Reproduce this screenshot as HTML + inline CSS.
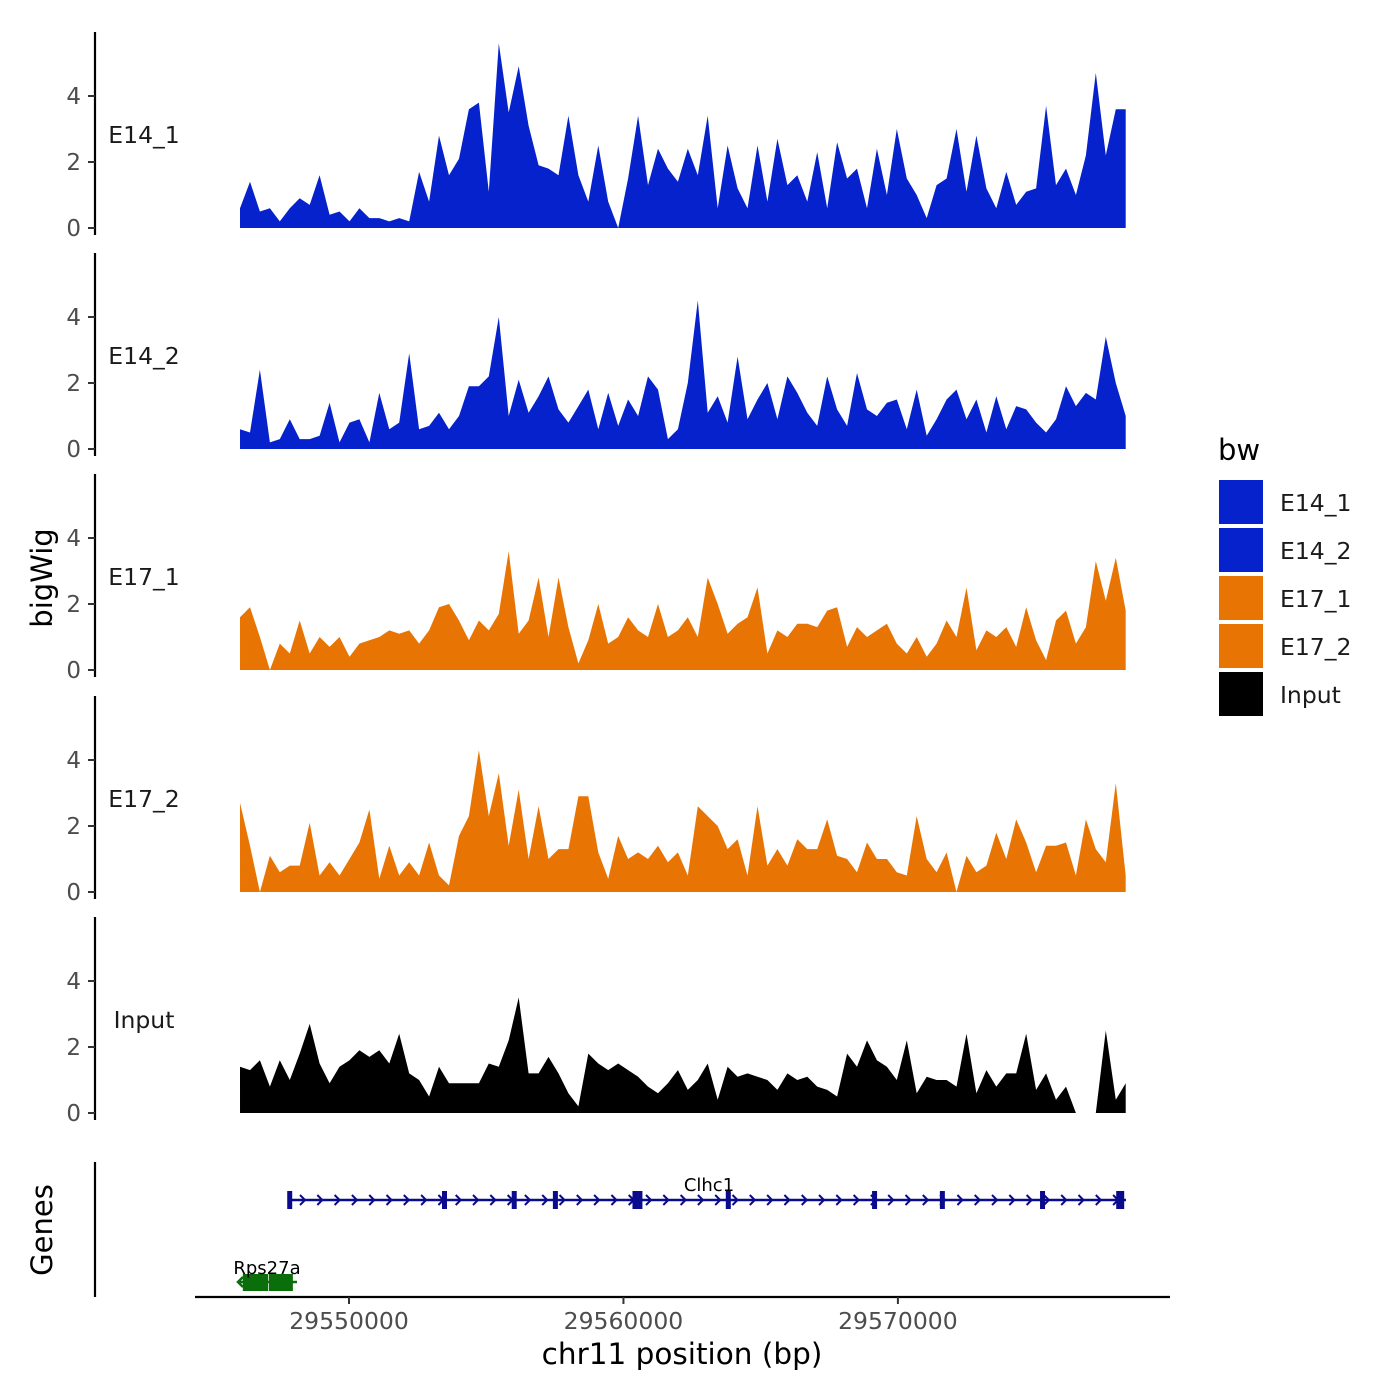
<!DOCTYPE html>
<html><head><meta charset="utf-8"><style>
html,body{margin:0;padding:0;background:#fff;}
svg{display:block;font-family:"DejaVu Sans","Liberation Sans",sans-serif;}
</style></head><body>
<svg id="chart" width="1400" height="1400" viewBox="0 0 1400 1400" xmlns="http://www.w3.org/2000/svg">
<rect width="1400" height="1400" fill="#fff"/>
<g id="tracks"></g>
<g id="genes"></g>
<g id="xaxis"></g>
<text x="0" y="0" transform="translate(52,578) rotate(-90)" text-anchor="middle" font-size="29" fill="#000">bigWig</text>
<text x="0" y="0" transform="translate(52,1230) rotate(-90)" text-anchor="middle" font-size="29" fill="#000">Genes</text>
<g id="legend"></g>
</svg>
<script>
const trackNames = ["E14_1","E14_2","E17_1","E17_2","Input"];
const trackColors = ["#0522CC","#0522CC","#E87503","#E87503","#000000"];
const yTicks = [0,2,4];
const xTicks = [29550000,29560000,29570000];
const binStart = 29546029;
const binStep = 362.6;
const e14_1 = [0.6,1.4,0.5,0.6,0.2,0.6,0.9,0.7,1.6,0.4,0.5,0.2,0.6,0.3,0.3,0.2,0.3,0.2,1.7,0.8,2.8,1.6,2.1,3.6,3.8,1.1,5.6,3.5,4.9,3.1,1.9,1.8,1.6,3.4,1.6,0.8,2.5,0.8,0.0,1.5,3.4,1.3,2.4,1.8,1.4,2.4,1.6,3.4,0.6,2.5,1.2,0.6,2.5,0.8,2.7,1.3,1.6,0.8,2.3,0.6,2.6,1.5,1.8,0.6,2.4,1.0,3.0,1.5,1.0,0.3,1.3,1.5,3.0,1.1,2.8,1.2,0.6,1.7,0.7,1.1,1.2,3.7,1.3,1.8,1.0,2.2,4.7,2.2,3.6,3.6];
const e14_2 = [0.6,0.5,2.4,0.2,0.3,0.9,0.3,0.3,0.4,1.4,0.2,0.8,0.9,0.2,1.7,0.6,0.8,2.9,0.6,0.7,1.1,0.6,1.0,1.9,1.9,2.2,4.0,1.0,2.1,1.1,1.6,2.2,1.2,0.8,1.3,1.8,0.6,1.7,0.7,1.5,1.0,2.2,1.8,0.3,0.6,2.0,4.5,1.1,1.6,0.8,2.8,0.9,1.5,2.0,0.9,2.2,1.7,1.1,0.7,2.2,1.2,0.7,2.3,1.2,1.0,1.4,1.5,0.6,1.8,0.4,0.9,1.5,1.8,0.9,1.5,0.5,1.6,0.6,1.3,1.2,0.8,0.5,0.9,1.9,1.3,1.7,1.5,3.4,2.0,1.0];
const e17_1 = [1.6,1.9,1.0,0.0,0.8,0.5,1.5,0.5,1.0,0.7,1.0,0.4,0.8,0.9,1.0,1.2,1.1,1.2,0.8,1.2,1.9,2.0,1.5,0.9,1.5,1.2,1.7,3.6,1.1,1.5,2.8,1.0,2.8,1.3,0.2,0.9,2.0,0.8,1.0,1.6,1.2,1.0,2.0,1.0,1.2,1.6,1.0,2.8,2.0,1.1,1.4,1.6,2.5,0.5,1.2,1.0,1.4,1.4,1.3,1.8,1.9,0.7,1.3,1.0,1.2,1.4,0.8,0.5,1.0,0.4,0.8,1.5,1.0,2.5,0.6,1.2,1.0,1.3,0.7,1.9,0.9,0.3,1.5,1.8,0.8,1.3,3.3,2.1,3.4,1.8];
const e17_2 = [2.7,1.4,0.0,1.1,0.6,0.8,0.8,2.1,0.5,0.9,0.5,1.0,1.5,2.5,0.4,1.4,0.5,0.9,0.5,1.5,0.5,0.2,1.7,2.3,4.3,2.3,3.6,1.4,3.1,1.0,2.6,1.0,1.3,1.3,2.9,2.9,1.2,0.4,1.7,1.0,1.2,1.0,1.4,0.9,1.2,0.5,2.6,2.3,2.0,1.3,1.6,0.5,2.6,0.8,1.3,0.8,1.6,1.3,1.3,2.2,1.1,1.0,0.6,1.5,1.0,1.0,0.6,0.5,2.3,1.0,0.6,1.2,0.0,1.1,0.6,0.8,1.8,1.0,2.2,1.5,0.6,1.4,1.4,1.5,0.5,2.2,1.3,0.9,3.3,0.5];
const input = [1.4,1.3,1.6,0.8,1.6,1.0,1.8,2.7,1.5,0.9,1.4,1.6,1.9,1.7,1.9,1.5,2.4,1.2,1.0,0.5,1.4,0.9,0.9,0.9,0.9,1.5,1.4,2.2,3.5,1.2,1.2,1.7,1.2,0.6,0.2,1.8,1.5,1.3,1.5,1.3,1.1,0.8,0.6,0.9,1.3,0.7,1.0,1.5,0.4,1.4,1.1,1.2,1.1,1.0,0.7,1.2,1.0,1.1,0.8,0.7,0.5,1.8,1.4,2.2,1.6,1.4,1.0,2.2,0.6,1.1,1.0,1.0,0.8,2.4,0.6,1.3,0.8,1.2,1.2,2.4,0.7,1.2,0.4,0.8,0.0,null,0.0,2.5,0.4,0.9];
const trackValues = [e14_1,e14_2,e17_1,e17_2,input];
const clhc1Exons = [29547840,29553480,29556020,29557520,29560420,29560600,29563820,29569150,29571620,29575270,29578100];
const rps27aExons = [29546350,29546800,29547300,29547700];

const NS="http://www.w3.org/2000/svg";
function mk(tag, attrs, parent){const e=document.createElementNS(NS,tag);for(const k in attrs)e.setAttribute(k,attrs[k]);parent.appendChild(e);return e;}
const xScale = bp => 349 + (bp-29550000)*0.027445;
const panelBase = [228,449,670,892,1113];
const yScale = (i,v) => panelBase[i] - v*33;

const tracks=document.getElementById('tracks');
trackNames.forEach((name,i)=>{
  const g=mk('g',{},tracks);
  
  
  const ax=mk('line',{x1:95,x2:95,y1:panelBase[i]-196,y2:panelBase[i]+7,stroke:'#000','stroke-width':2.2},g);
  
  
  yTicks.forEach(t=>{
    const y=yScale(i,t);
    const tk=mk('line',{x1:88,x2:95,y1:y,y2:y,stroke:'#333','stroke-width':2},g);
    
    
    const tl=mk('text',{x:81,y:y+8,'text-anchor':'end','font-size':23,fill:'#4d4d4d'},g);
    tl.textContent=t;
    
    
  });
  const lab=mk('text',{x:144,y:panelBase[i]-85,'text-anchor':'middle','font-size':23.5,fill:'#1a1a1a'},g);
  lab.textContent=name;
  
  
  const vals=trackValues[i];
  let seg=[];
  const segs=[];
  vals.forEach((v,j)=>{
    if(v===null){if(seg.length)segs.push(seg);seg=[];}
    else seg.push([xScale(binStart+j*binStep),yScale(i,v)]);
  });
  if(seg.length)segs.push(seg);
  segs.forEach(s=>{
    let d='M'+s[0][0]+','+panelBase[i];
    s.forEach(p=>d+='L'+p[0].toFixed(1)+','+p[1].toFixed(1));
    d+='L'+s[s.length-1][0]+','+panelBase[i]+'Z';
    const p=mk('path',{d:d,fill:trackColors[i]},g);
    
    
  });
});

const gg=document.getElementById('genes');
const gax=mk('line',{x1:95,x2:95,y1:1162,y2:1297,stroke:'#000','stroke-width':2.2},gg);


const navy='#0A0A8C';
const cl=mk('g',{},gg);


mk('line',{x1:292,x2:1126,y1:1200,y2:1200,stroke:navy,'stroke-width':2.5},cl);
for(let x=300;x<1120;x+=17.3){mk('path',{d:`M${x.toFixed(1)},1195L${(x+5).toFixed(1)},1200L${x.toFixed(1)},1205`,stroke:navy,'stroke-width':2,fill:'none'},cl);}
clhc1Exons.forEach((bp,k)=>{
  const x=xScale(bp);
  const w=k===clhc1Exons.length-1?8:5;
  const r=mk('rect',{x:x-w/2,y:1191,width:w,height:18,fill:navy},cl);
  
  
});
const clt=mk('text',{x:709,y:1191,'text-anchor':'middle','font-size':18,fill:'#000'},cl);
clt.textContent='Clhc1';


const green='#0A6E0A';
const rp=mk('g',{},gg);


mk('line',{x1:238,x2:297,y1:1282,y2:1282,stroke:green,'stroke-width':2.5},rp);
mk('path',{d:'M243,1277L238,1282L243,1287',stroke:green,'stroke-width':2.5,fill:'none'},rp);
rps27aExons.forEach(bp=>{
  const x=xScale(bp);
  const r=mk('rect',{x:x-6,y:1274,width:13,height:17,fill:green},rp);
  
  
});
const rpt=mk('text',{x:267,y:1274,'text-anchor':'middle','font-size':18,fill:'#000'},rp);
rpt.textContent='Rps27a';



const xa=document.getElementById('xaxis');
mk('line',{x1:195,x2:1170,y1:1297,y2:1297,stroke:'#000','stroke-width':2.2},xa);
xTicks.forEach(t=>{
  const x=xScale(t);
  const tk=mk('line',{x1:x,x2:x,y1:1297,y2:1304,stroke:'#333','stroke-width':2},xa);
  
  
  const tl=mk('text',{x:x,y:1329,'text-anchor':'middle','font-size':23.5,fill:'#4d4d4d'},xa);
  tl.textContent=t;
  
  
});
const xt=mk('text',{x:682,y:1364,'text-anchor':'middle','font-size':29.5,fill:'#000'},xa);
xt.textContent='chr11 position (bp)';



const lg=document.getElementById('legend');
const lt=mk('text',{x:1218,y:460,'font-size':29,fill:'#000'},lg);
lt.textContent='bw';


trackNames.forEach((n,i)=>{
  const y=480+i*48;
  const r=mk('rect',{x:1219,y:y,width:44,height:44,fill:trackColors[i]},lg);
  
  
  const t=mk('text',{x:1280,y:y+31,'font-size':23.5,fill:'#1a1a1a'},lg);
  t.textContent=n;
  
  
});
</script>
</body></html>
